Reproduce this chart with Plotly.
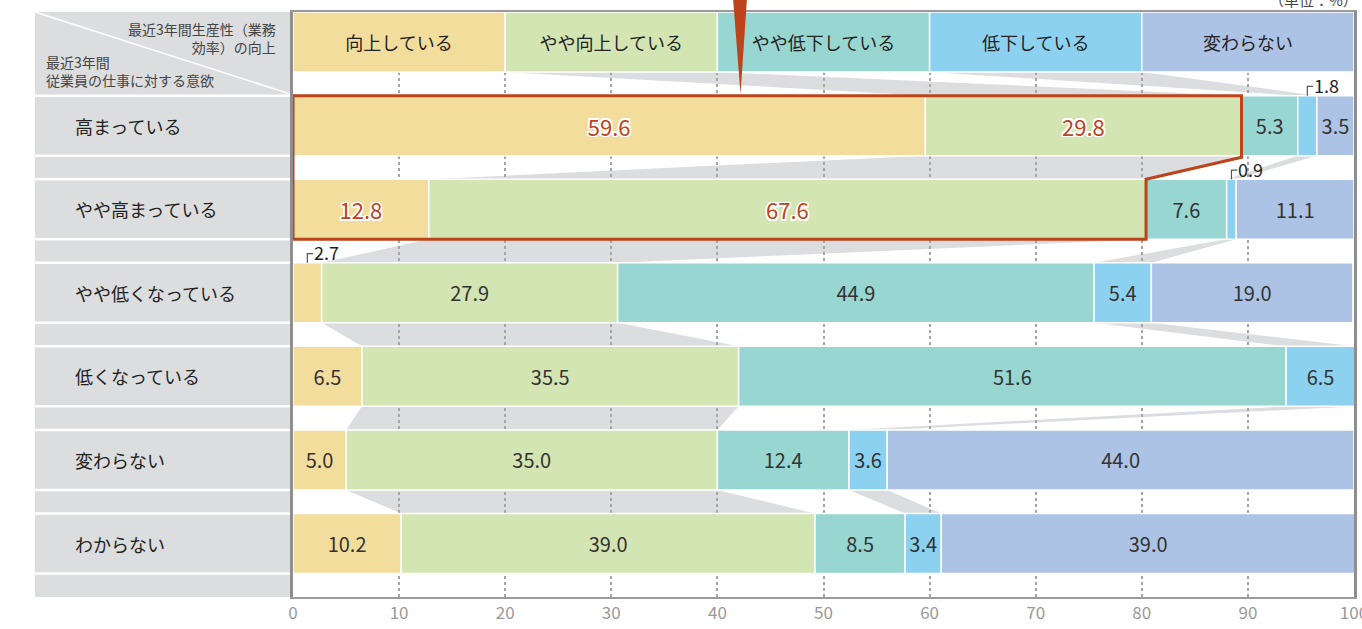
import numpy as np
import plotly.graph_objects as go

# ---------------- data ----------------
categories = ["向上している", "やや向上している", "やや低下している", "低下している", "変わらない"]
rows = ["高まっている", "やや高まっている", "やや低くなっている", "低くなっている", "変わらない", "わからない"]
v_kojo = [59.6, 12.8, 2.7, 6.5, 5.0, 10.2]
v_yaya_kojo = [29.8, 67.6, 27.9, 35.5, 35.0, 39.0]
v_yaya_teika = [5.3, 7.6, 44.9, 51.6, 12.4, 8.5]
v_teika = [1.8, 0.9, 5.4, 6.5, 3.6, 3.4]
v_kawaranai = [3.5, 11.1, 19.0, 0.0, 44.0, 39.0]
header_share = [20, 20, 20, 20, 20]
x_ticks = [0, 10, 20, 30, 40, 50, 60, 70, 80, 90, 100]
highlight_rows = [0, 1]
highlight_cats = [0, 1]
connector_cats = [1, 3]

# ---------------- style ----------------
colors = ["#f3dd9d", "#d3e5b2", "#98d6d2", "#8dd1f1", "#adc3e5"]
GRAY = "#dcdddf"
RED = "#bd431b"
FONT = "Noto Sans CJK JP"
BAR_W = 0.718
H = BAR_W / 2
Y_TOP, Y_BOT = -0.36, 6.64
SMALL = 3.0

series = [v_kojo, v_yaya_kojo, v_yaya_teika, v_teika, v_kawaranai]
vals = np.array(series, dtype=float)          # cats x rows
starts = np.vstack([np.zeros(len(rows)), np.cumsum(vals, axis=0)[:-1]])
row_y = np.arange(1, len(rows) + 1)

hdr_start = np.concatenate([[0], np.cumsum(header_share)[:-1]])
hdr_vals = np.array(header_share, dtype=float)


def py(r):
    return 1 - (r - Y_TOP) / (Y_BOT - Y_TOP)


def px_x(p):
    return (p - 293) / 1061.0


def px_y(p):
    return 1 - (p - 12) / 585.0


fig = go.Figure()

# header row
fig.add_trace(go.Bar(
    orientation="h", y=[0] * len(categories), x=header_share, base=hdr_start,
    width=BAR_W, marker=dict(color=colors, line=dict(color="white", width=1.5)),
    text=categories, textposition="inside", insidetextanchor="middle",
    textangle=0, constraintext="none",
    textfont=dict(family=FONT, size=18, color="#222"),
    hoverinfo="skip", showlegend=False,
))

outline = ("1.5px 1.5px 0 #fff, -1.5px -1.5px 0 #fff, 1.5px -1.5px 0 #fff, -1.5px 1.5px 0 #fff, "
           "0 1.5px 0 #fff, 0 -1.5px 0 #fff, 1.5px 0 0 #fff, -1.5px 0 0 #fff")
for ci, cat in enumerate(categories):
    v = vals[ci]
    texts, tcolors, tshadow, tsize = [], [], [], []
    for ri in range(len(rows)):
        texts.append(f"{v[ri]:.1f}" if v[ri] >= SMALL else "")
        hl = ri in highlight_rows and ci in highlight_cats
        tcolors.append(RED if hl else "#333")
        tshadow.append(outline if hl else "none")
        tsize.append(22 if hl else 20)
    fig.add_trace(go.Bar(
        orientation="h", y=row_y, x=v, base=starts[ci], name=cat,
        width=BAR_W, marker=dict(color=colors[ci], line=dict(color="white", width=1.5)),
        text=texts, textposition="inside", insidetextanchor="middle",
        textangle=0, constraintext="none",
        textfont=dict(family=FONT, size=tsize, color=tcolors, shadow=tshadow),
        hoverinfo="skip", showlegend=False,
    ))

shapes = []
annotations = []

# connectors between rows (including header -> first row)
all_start = np.hstack([hdr_start[:, None], starts])
all_end = np.hstack([(hdr_start + hdr_vals)[:, None], starts + vals])
for ci in connector_cats:
    for r in range(len(rows)):
        a0, a1 = all_start[ci, r], all_end[ci, r]
        b0, b1 = all_start[ci, r + 1], all_end[ci, r + 1]
        yu, yl = r + H, r + 1 - H
        shapes.append(dict(
            type="path", xref="x", yref="y", layer="below",
            path=f"M {a0},{yu} L {a1},{yu} L {b1},{yl} L {b0},{yl} Z",
            fillcolor=GRAY, line=dict(width=0)))

# left label column
LX0, LX1 = px_x(35), px_x(290)
shapes.append(dict(type="rect", xref="paper", yref="paper", layer="below",
                   x0=LX0, x1=LX1, y0=0, y1=1, fillcolor=GRAY, line=dict(width=0)))
for r in row_y:
    for yy in (r - H, r + H):
        shapes.append(dict(type="line", xref="paper", yref="paper", layer="below",
                           x0=LX0, x1=LX1, y0=py(yy), y1=py(yy),
                           line=dict(color="white", width=2.5)))
shapes.append(dict(type="line", xref="paper", yref="paper", layer="below",
                   x0=LX0, x1=LX1, y0=1, y1=py(1 - H) + 0.003,
                   line=dict(color="white", width=1.5)))

# red highlight box (rows 1-2, first two categories)
r0, r1 = highlight_rows
e0 = starts[highlight_cats[-1], r0] + vals[highlight_cats[-1], r0]
e1 = starts[highlight_cats[-1], r1] + vals[highlight_cats[-1], r1]
y0t, y0b = row_y[r0] - H, row_y[r0] + H
y1t, y1b = row_y[r1] - H, row_y[r1] + H
shapes.append(dict(
    type="path", xref="x", yref="y", layer="above",
    path=(f"M 0,{y0t} L {e0},{y0t} L {e0},{y0b + 0.02} L {e1},{y1t} "
          f"L {e1},{y1b} L 0,{y1b} Z"),
    line=dict(color=RED, width=3), fillcolor="rgba(0,0,0,0)"))

# red pointer
shapes.append(dict(
    type="path", xref="paper", yref="paper", layer="above",
    path=f"M {px_x(733)},{px_y(-2)} L {px_x(747)},{px_y(-2)} L {px_x(740.5)},{px_y(94)} Z",
    fillcolor=RED, line=dict(width=0)))

# small outside labels with bracket
for ci in range(len(categories)):
    for ri in range(len(rows)):
        v = vals[ci, ri]
        if 0 < v < SMALL:
            cx = starts[ci, ri] + v / 2
            top = row_y[ri] - H
            hy = top - 0.11
            shapes.append(dict(
                type="path", xref="x", yref="y", layer="above",
                path=f"M {cx},{top} L {cx},{hy} L {cx + 0.55},{hy}",
                line=dict(color="#555", width=1.2)))
            annotations.append(dict(
                x=cx + 0.4, y=top - 0.125, xref="x", yref="y",
                text=f"{v:.1f}", showarrow=False, xanchor="left", yanchor="middle",
                font=dict(family=FONT, size=18, color="#222")))

# row labels
for r, lab in zip(row_y, rows):
    annotations.append(dict(
        x=px_x(73), y=r, xref="paper", yref="y", text=lab, showarrow=False,
        xanchor="left", yanchor="middle", font=dict(family=FONT, size=18, color="#222")))

# header corner texts
annotations.append(dict(
    x=px_x(278), y=px_y(38), xref="paper", yref="paper",
    text="最近3年間生産性（業務<br>効率）の向上", showarrow=False,
    xanchor="right", yanchor="middle", align="right",
    font=dict(family=FONT, size=14, color="#444")))
annotations.append(dict(
    x=px_x(44), y=px_y(71), xref="paper", yref="paper",
    text="最近3年間<br>従業員の仕事に対する意欲", showarrow=False,
    xanchor="left", yanchor="middle", align="left",
    font=dict(family=FONT, size=14, color="#444")))

# unit (partly cut at top, as in the reference)
annotations.append(dict(
    x=px_x(1360), y=px_y(-1), xref="paper", yref="paper",
    text="（単位：%）", showarrow=False, xanchor="right", yanchor="middle",
    font=dict(family=FONT, size=15, color="#444")))

fig.update_layout(
    width=1362, height=629,
    margin=dict(l=293, r=8, t=12, b=32, autoexpand=False),
    barmode="overlay",
    plot_bgcolor="white", paper_bgcolor="white",
    shapes=shapes, annotations=annotations,
    xaxis=dict(range=[0, 100], tickvals=x_ticks, showgrid=True, gridcolor="#a5a5a5",
               griddash="dot", gridwidth=1.5, zeroline=False, showline=True,
               linecolor="#9a9a9a", linewidth=2, mirror=True, ticks="",
               ticklabeloverflow="allow", automargin=False,
               tickfont=dict(family=FONT, size=17, color="#999"), fixedrange=True),
    yaxis=dict(range=[Y_BOT, Y_TOP], showticklabels=False, showgrid=False, zeroline=False,
               showline=True, linecolor="#8e8e8e", linewidth=2.5, mirror=True, ticks="",
               automargin=False, fixedrange=True),
)

fig.write_html("out.html", config={"displayModeBar": False},
               post_script="document.body.style.margin='0';document.body.style.overflow='hidden';")
